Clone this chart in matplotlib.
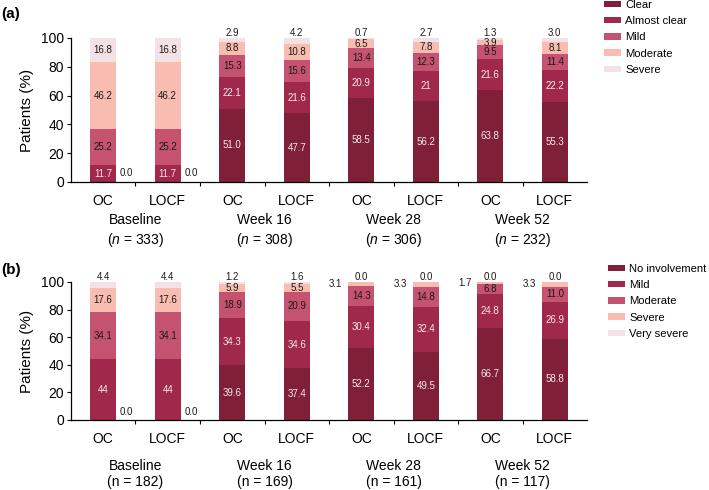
import matplotlib
matplotlib.use("Agg")
import matplotlib.pyplot as plt
import numpy as np

plt.rcParams['font.family'] = ['Liberation Sans', 'DejaVu Sans']
plt.rcParams['mathtext.fontset'] = 'custom'
plt.rcParams['mathtext.rm'] = 'Liberation Sans'
plt.rcParams['mathtext.it'] = 'Liberation Sans:italic'

# x categories
bar_labels = ["OC", "LOCF", "OC", "LOCF", "OC", "LOCF", "OC", "LOCF"]
groups = ["Baseline", "Week 16", "Week 28", "Week 52"]
n_a = [333, 308, 306, 232]
n_b = [182, 169, 161, 117]

# panel (a) - values as printed on the chart
cats_a = ["Clear", "Almost clear", "Mild", "Moderate", "Severe"]
clear_a = ["0.0", "0.0", "51.0", "47.7", "58.5", "56.2", "63.8", "55.3"]
almost_a = ["11.7", "11.7", "22.1", "21.6", "20.9", "21", "21.6", "22.2"]
mild_a = ["25.2", "25.2", "15.3", "15.6", "13.4", "12.3", "9.5", "11.4"]
moderate_a = ["46.2", "46.2", "8.8", "10.8", "6.5", "7.8", "3.9", "8.1"]
severe_a = ["16.8", "16.8", "2.9", "4.2", "0.7", "2.7", "1.3", "3.0"]

# panel (b)
cats_b = ["No involvement", "Mild", "Moderate", "Severe", "Very severe"]
none_b = ["0.0", "0.0", "39.6", "37.4", "52.2", "49.5", "66.7", "58.8"]
mild_b = ["44", "44", "34.3", "34.6", "30.4", "32.4", "24.8", "26.9"]
moderate_b = ["34.1", "34.1", "18.9", "20.9", "14.3", "14.8", "6.8", "11.0"]
severe_b = ["17.6", "17.6", "5.9", "5.5", "3.1", "3.3", "1.7", "3.3"]
vsevere_b = ["4.4", "4.4", "1.2", "1.6", "0.0", "0.0", "0.0", "0.0"]

colors = ["#7f1f38", "#a0284a", "#c5536f", "#f8bdb0", "#f4e1e5"]
txt_colors = ["#f7e8ea", "#f7e8ea", "#1a1a1a", "#1a1a1a", "#1a1a1a"]
fs_val = 7


def draw_panel(ax, series, cats, left_small):
    x = np.arange(len(bar_labels))
    bottom = np.zeros(len(x))
    for k, (vals, cat) in enumerate(zip(series, cats)):
        v = np.array([float(s) for s in vals])
        ax.bar(x, v, 0.4, bottom=bottom, color=colors[k], label=cat,
               edgecolor="none")
        for i in range(len(x)):
            lab = vals[i]
            mid = bottom[i] + v[i] / 2
            if k == 0 and v[i] == 0:
                # zero count: printed beside the bar
                ax.text(x[i] + 0.36, 6, lab, ha="center", va="center",
                        fontsize=fs_val, color="#1a1a1a")
            elif k == len(series) - 1 and v[i] < 10:
                ax.text(x[i], 103.6, lab, ha="center", va="center",
                        fontsize=fs_val, color="#1a1a1a", clip_on=False)
            elif left_small is not None and k == left_small and v[i] < 5:
                ax.text(x[i] - 0.4, mid, lab, ha="center", va="center",
                        fontsize=fs_val, color="#1a1a1a")
            else:
                ax.text(x[i], mid, lab, ha="center", va="center",
                        fontsize=fs_val, color=txt_colors[k])
        bottom += v

    ax.set_xlim(-0.5, 7.5)
    ax.set_ylim(0, 100)
    ax.set_yticks([0, 20, 40, 60, 80, 100])
    ax.tick_params(axis="y", labelsize=10, length=3, width=0.8, pad=2)
    ax.set_xticks(x, bar_labels)
    ax.set_xticks(np.arange(0.5, 7, 1), minor=True)
    ax.tick_params(axis="x", which="major", length=0, labelsize=10, pad=9)
    ax.tick_params(axis="x", which="minor", length=3, width=0.8)
    for s in ["top", "right"]:
        ax.spines[s].set_visible(False)
    for s in ["left", "bottom"]:
        ax.spines[s].set_linewidth(0.9)
    ax.set_ylabel("Patients (%)", fontsize=11, labelpad=5)
    return ax


fig = plt.figure(figsize=(7.09, 4.9), dpi=100)
ax1 = fig.add_axes([0.1001, 0.6286, 0.728, 0.2939])
ax2 = fig.add_axes([0.1001, 0.1429, 0.728, 0.2816])

draw_panel(ax1, [clear_a, almost_a, mild_a, moderate_a, severe_a], cats_a, None)
draw_panel(ax2, [none_b, mild_b, moderate_b, severe_b, vsevere_b], cats_b, 3)

tr1 = ax1.get_xaxis_transform()
tr2 = ax2.get_xaxis_transform()
for j, g in enumerate(groups):
    xc = 2 * j + 0.5
    ax1.text(xc, -0.265, g, transform=tr1, ha="center", va="center", fontsize=10)
    ax1.text(xc, -0.40, r"($n$ = %d)" % n_a[j], transform=tr1, ha="center",
             va="center", fontsize=10)
    ax2.text(xc, -0.335, g, transform=tr2, ha="center", va="center", fontsize=10)
    ax2.text(xc, -0.45, "(n = %d)" % n_b[j], transform=tr2, ha="center",
             va="center", fontsize=10)

leg_kw = dict(loc="upper left", frameon=False, fontsize=8.1, handlelength=1.55,
              handleheight=0.5, handletextpad=0.35, labelspacing=0.55,
              borderpad=0, borderaxespad=0)
fig.legend(*ax1.get_legend_handles_labels(), bbox_to_anchor=(604 / 709, 1.0), **leg_kw)
fig.legend(*ax2.get_legend_handles_labels(), bbox_to_anchor=(608 / 709, 1 - 264 / 490), **leg_kw)

fig.text(0.002, 0.985, "(a)", fontsize=11, fontweight="bold", va="top")
fig.text(0.002, 1 - 263 / 490, "(b)", fontsize=11, fontweight="bold", va="top")

plt.savefig("out.png", dpi=100)
plt.close()
